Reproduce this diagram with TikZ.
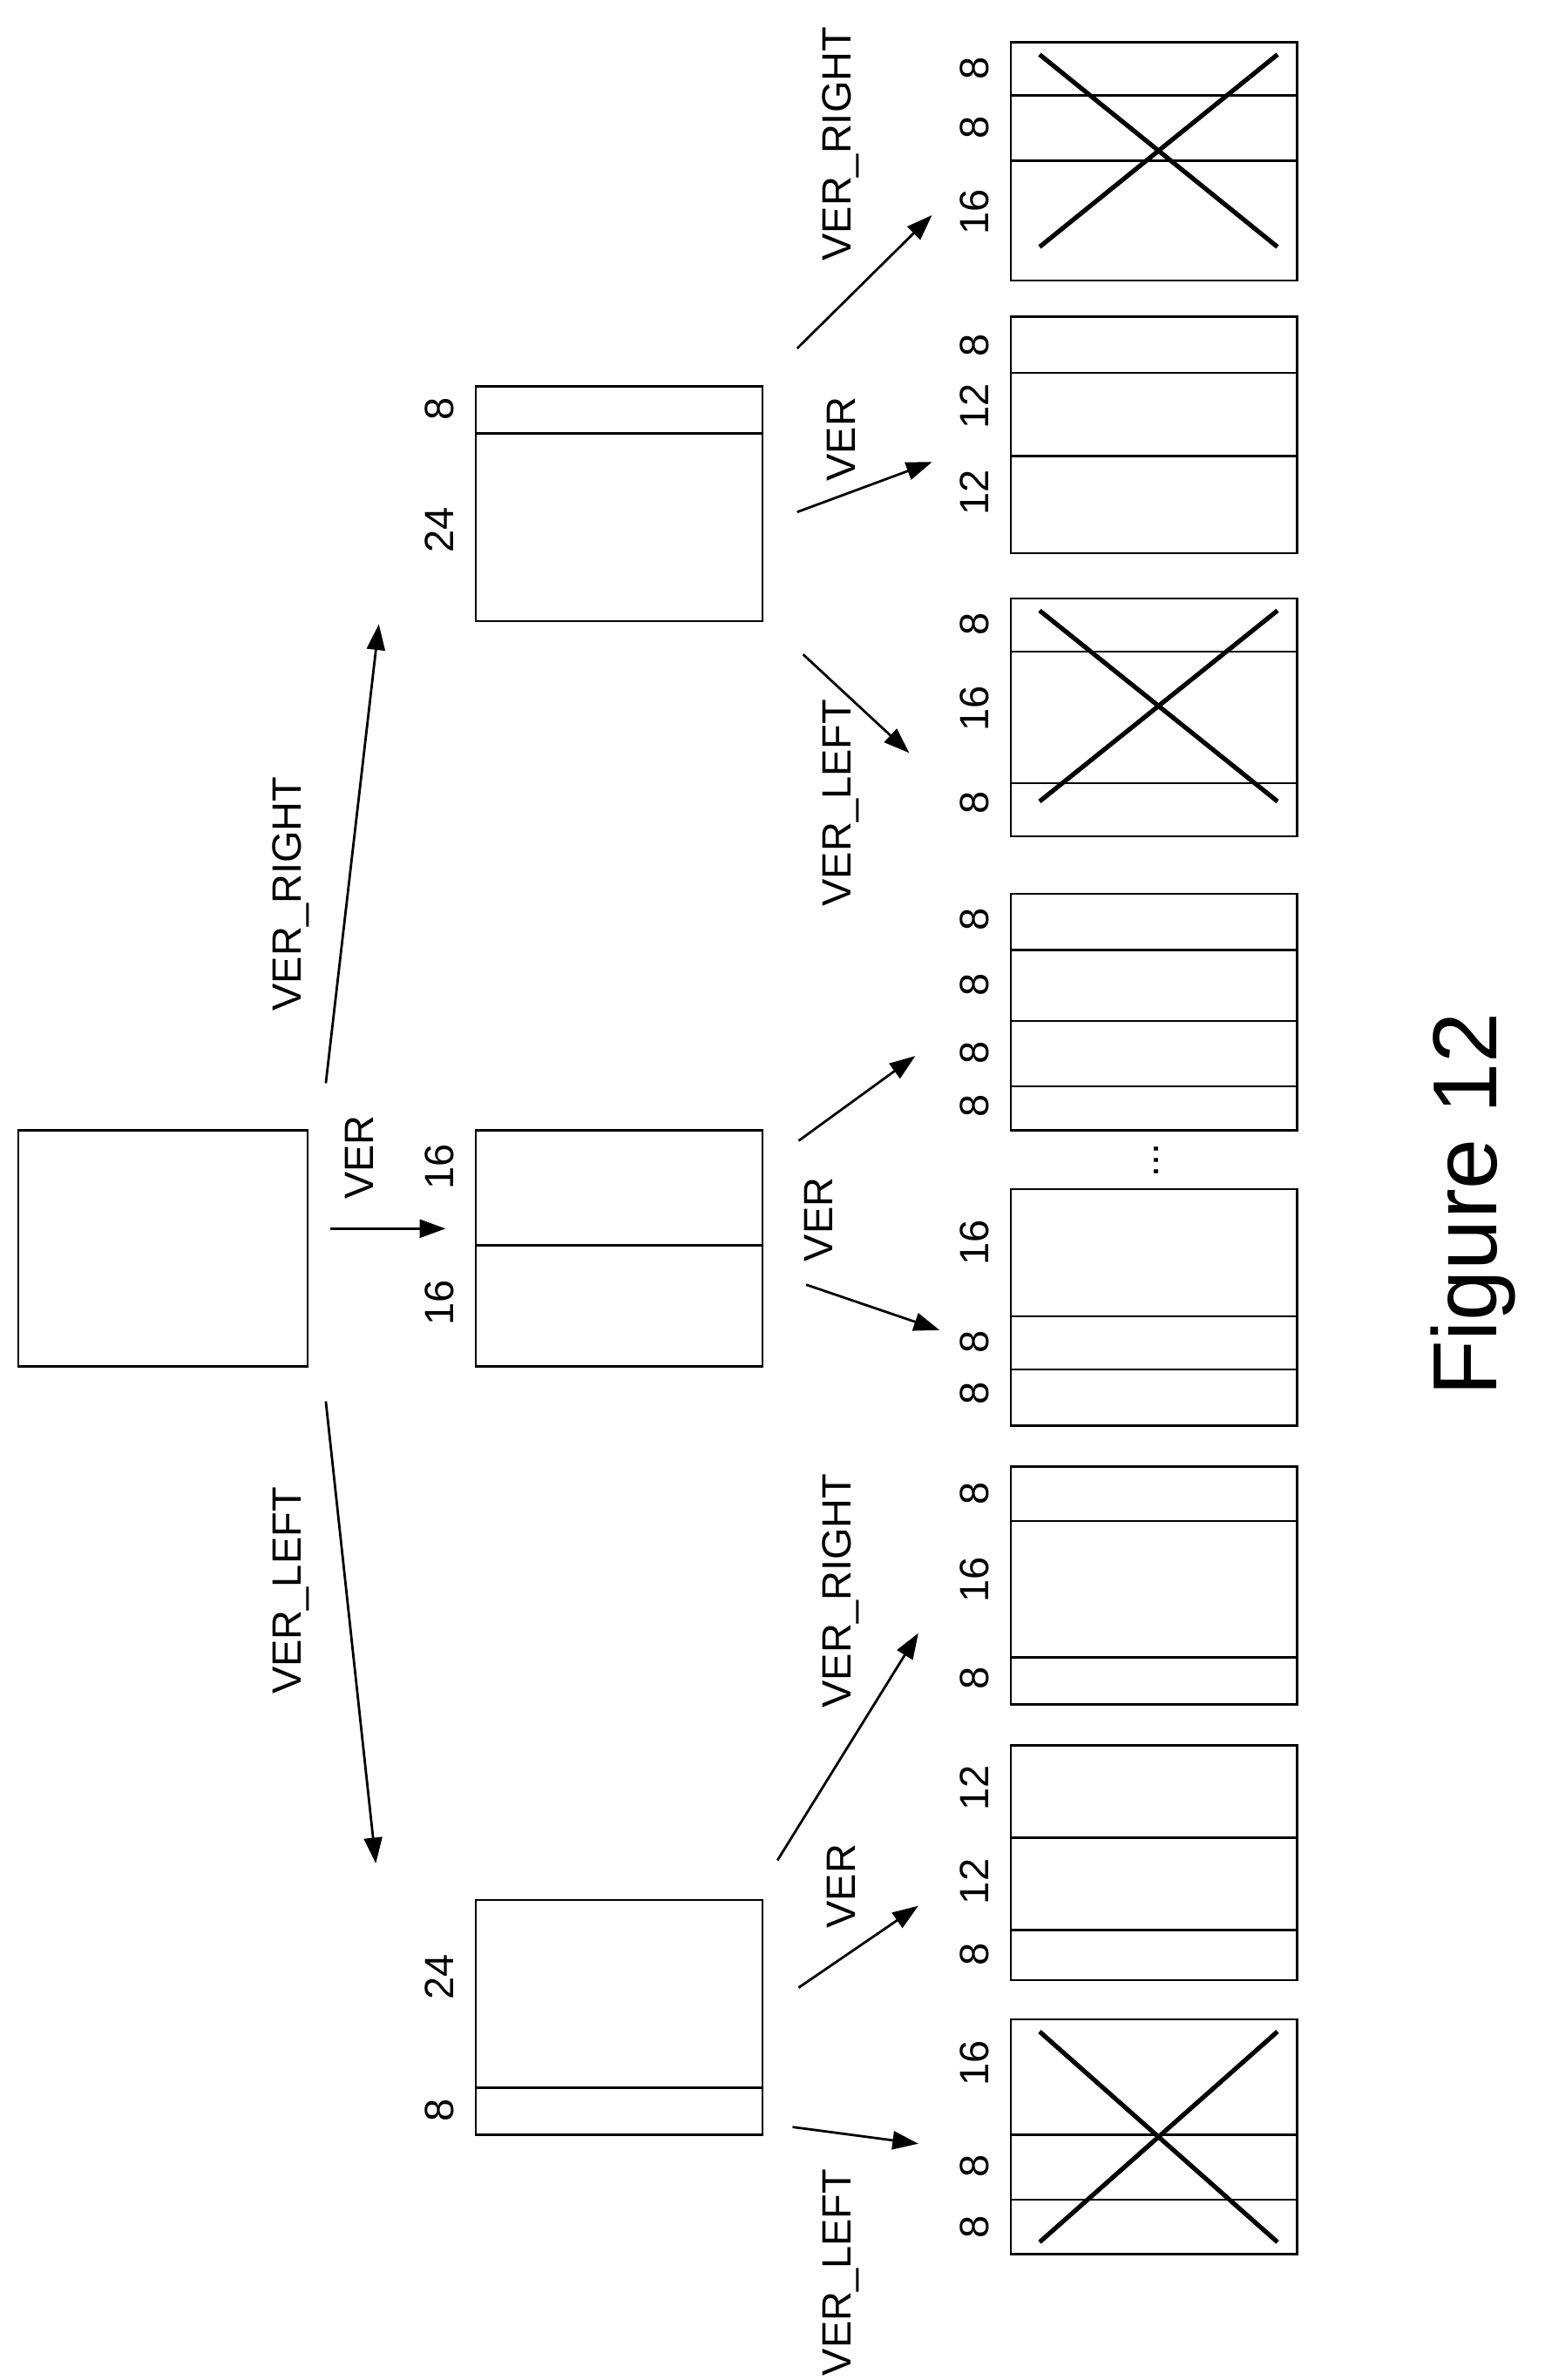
\documentclass[tikz,border=0pt]{standalone}
\usepackage{fontspec}
\setmainfont{Liberation Sans}
\usetikzlibrary{arrows.meta}
\begin{document}
\begin{tikzpicture}[x=1pt,y=-1pt,
    box/.style={line width=1.4pt},
    crossline/.style={line width=3pt},
    arr/.style={line width=1.6pt,-{Triangle[length=17pt,width=12pt]}},
    lab/.style={rotate=90,font=\fontsize{27}{30}\selectfont,inner sep=0pt},
    num/.style={rotate=90,font=\fontsize{27}{30}\selectfont,inner sep=0pt}]
    \useasboundingbox (0,0) rectangle (1024,1571);
    % root block
    \draw[box] (12,746) rectangle (203,902);
    \coordinate (cRoot) at (108,824);
    % second level
    \draw[box] (314,255) rectangle (503,410);
    \draw[box] (314,286) -- (503,286);
    \draw[box] (314,746) rectangle (503,902);
    \draw[box] (314,822) -- (503,822);
    \draw[box] (314,1254) rectangle (503,1409);
    \draw[box] (314,1378) -- (503,1378);
\foreach \y/\t in {270/8,350/24,770/16,860/16,1305/24,1393/8}
{
    \node[num] at (290,\y) {\t};
};
    % third level blocks
\foreach \a/\b in {28/185,209/365,395/552,590/746,785/941,968/1125,1152/1307,1333/1488}
{
    \draw[box] (667,\a) rectangle (856,\b);
};
\foreach \y in {63,106,246,301,430,517,627,674,717,869,904,1004,1094,1213,1274,1409,1452}
{
    \draw[box] (667,\y) -- (856,\y);
};
\foreach \a/\b in {36/163,403/529,1341/1480}
{
    \draw[crossline] (686,\b) -- (843,\a);
    \draw[crossline] (686,\a) -- (843,\b);
};
\foreach \y/\t in {45/8,84/8,140/16,228/8,268/12,325/12,412/8,468/16,530/8,
    607/8,650/8,695/8,730/8,820/16,886/8,920/8,986/8,1043/16,1108/8,
    1180/12,1242/12,1290/8,1362/16,1430/8,1470/8}
{
    \node[num] at (643,\y) {\t};
};
    \node[rotate=90,font=\fontsize{27}{30}\selectfont] at (763,766) {...};
    % arrows
    \coordinate (aR1) at (215,715);  \coordinate (aR2) at (250,412);
    \coordinate (aV1) at (218,811);  \coordinate (aV2) at (294,811);
    \coordinate (aL1) at (215,925);  \coordinate (aL2) at (248,1230);
    \draw[arr] (aR1) -- (aR2);
    \draw[arr] (aV1) -- (aV2);
    \draw[arr] (aL1) -- (aL2);
    \draw[arr] (526,230) -- (615,142);
    \draw[arr] (526,338) -- (615,305);
    \draw[arr] (530,432) -- (600,497);
    \draw[arr] (527,753) -- (604,697);
    \draw[arr] (532,848) -- (620,878);
    \draw[arr] (513,1228) -- (606,1078);
    \draw[arr] (527,1312) -- (606,1258);
    \draw[arr] (523,1404) -- (606,1415);
    % labels
    \node[lab] at (192,590) {VER\_RIGHT};
    \node[lab] at (237,764) {VER};
    \node[lab] at (192,1050) {VER\_LEFT};
    \node[lab] at (555,95) {VER\_RIGHT};
    \node[lab] at (555,290) {VER};
    \node[lab] at (555,530) {VER\_LEFT};
    \node[lab] at (540,805) {VER};
    \node[lab] at (555,1050) {VER\_RIGHT};
    \node[lab] at (555,1245) {VER};
    \node[lab] at (555,1500) {VER\_LEFT};
    \node[rotate=90,font=\fontsize{60}{66}\selectfont] (figLabel) at (972,795) {Figure 12};
\end{tikzpicture}
\end{document}
